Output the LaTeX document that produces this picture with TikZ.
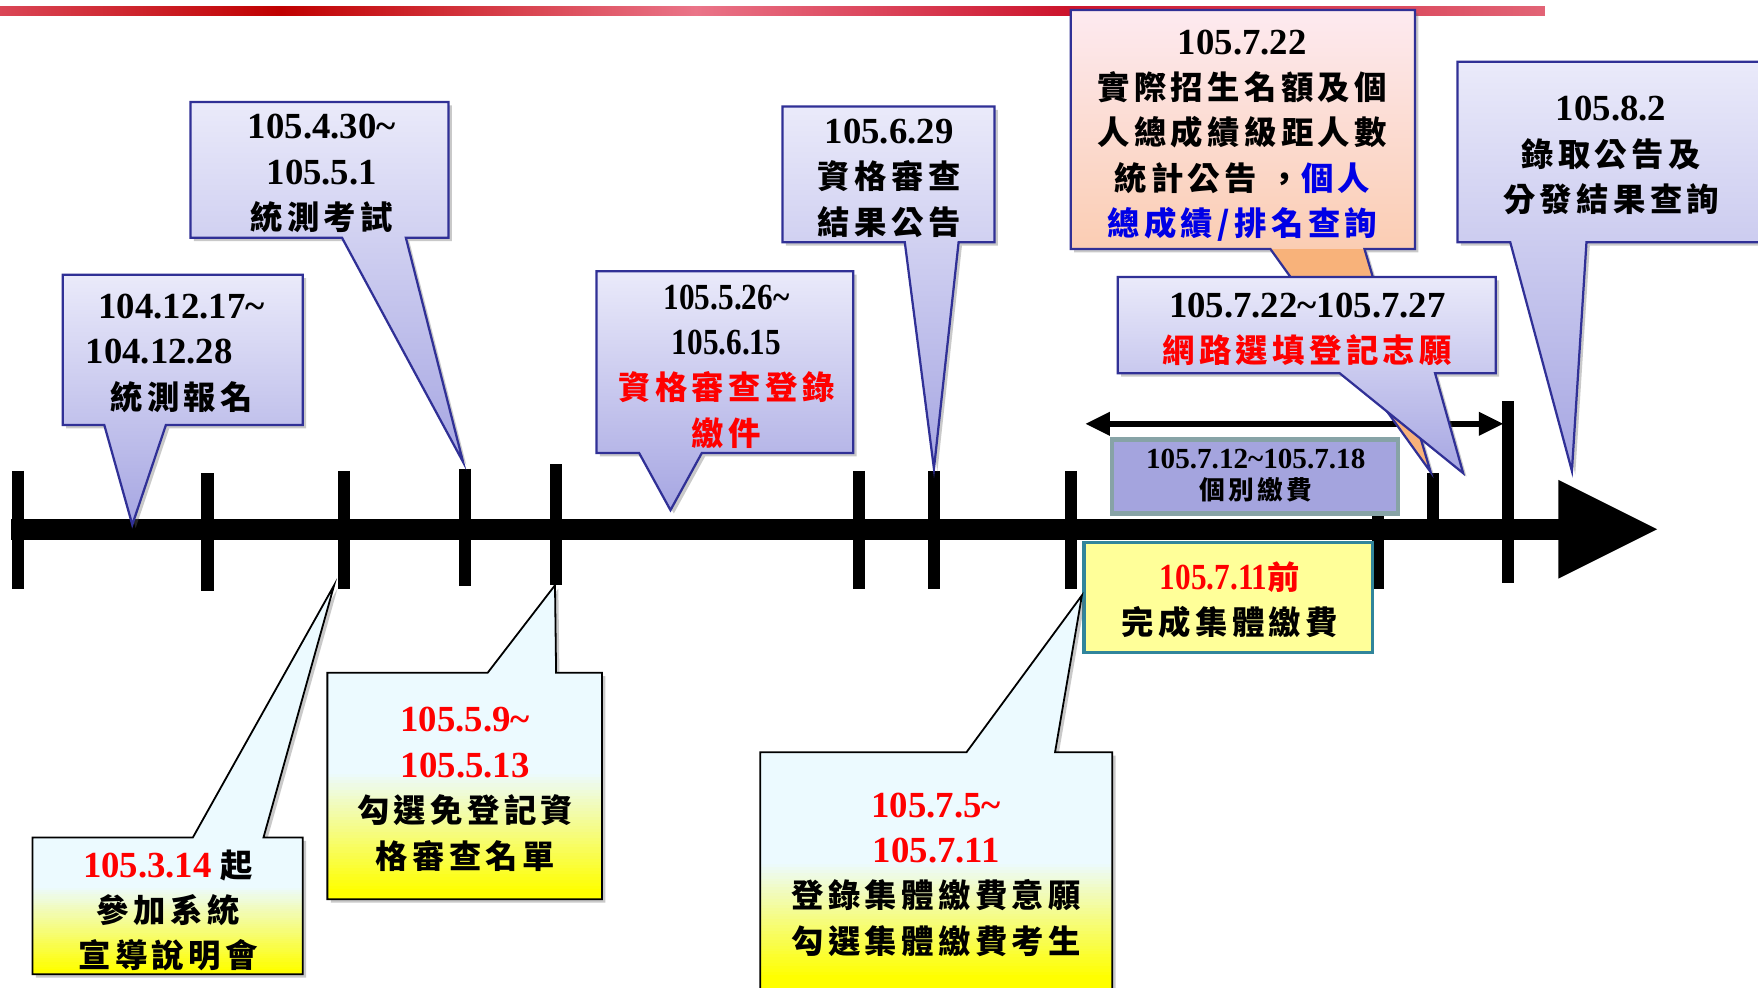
\documentclass[tikz,border=0pt]{standalone}
\usepackage{fontspec}
\setmainfont{Liberation Serif}
\newfontfamily\cjk{Noto Sans CJK TC}[Scale=0.88,LetterSpace=13.6]
\newfontfamily\narrowfont{Liberation Serif}[FakeStretch=0.85]
\usetikzlibrary{arrows.meta,shadows}
\definecolor{lavtop}{RGB}{234,234,250}
\definecolor{lavbot}{RGB}{166,166,226}
\definecolor{lavedge}{RGB}{48,48,150}
\definecolor{cyantop}{RGB}{236,250,255}
\definecolor{yelbot}{RGB}{255,255,0}
\definecolor{orgtop}{RGB}{253,234,240}
\definecolor{orgbot}{RGB}{248,178,122}
\definecolor{txtred}{RGB}{255,0,0}
\definecolor{txtblue}{RGB}{0,0,230}
\definecolor{paybox}{RGB}{164,164,222}
\definecolor{payedge}{RGB}{135,163,166}
\definecolor{yelbox}{RGB}{255,255,153}
\definecolor{yeledge}{RGB}{49,133,155}
\definecolor{barA}{RGB}{218,70,86}
\definecolor{barB}{RGB}{192,0,0}
\definecolor{barC}{RGB}{234,116,136}
\definecolor{barD}{RGB}{204,20,44}
\definecolor{barE}{RGB}{226,100,118}
\newcommand\cjkt[1]{{\cjk #1}}
\newcommand\rd[1]{\textcolor{txtred}{#1}}
\newcommand\bl[1]{\textcolor{txtblue}{#1}}
\tikzset{
  shadowed/.style={drop shadow={shadow xshift=1.5pt,shadow yshift=-1.5pt,opacity=0.35,fill=black!60}},
  lavcall/.style={top color=lavtop,bottom color=lavbot,draw=lavedge,line width=1pt,line join=miter,shadowed},
  bcall/.style 2 args={fill=cyantop,draw=black,line width=0.8pt,line join=miter,shadowed,
     path picture={\foreach \k in {0,...,39}{\pgfmathtruncatemacro\pc{\k*100/39}
        \fill[yelbot!\pc!cyantop] (0,{#1+(#2-#1)*\k/40}) rectangle (1600,{#1+(#2-#1)*(\k+1)/40+0.8});}
        \fill[yelbot] (0,#2) rectangle (1600,950);}},
  ocall/.style={fill=orgbot,draw=lavedge,line width=1pt,line join=miter,shadowed,
     path picture={\shade[top color=orgtop,bottom color=orgbot] (955,9) rectangle (1262,222);}},
  txt/.style={align=center,inner sep=0pt,font=\fontsize{16.4}{20.25}\selectfont\bfseries},
  smalltxt/.style={align=center,inner sep=0pt,font=\fontsize{13}{14}\selectfont\bfseries},
  tickmark/.style={line width=5.5pt},
}
\begin{document}
\begin{tikzpicture}[x=0.5pt,y=-0.5pt]
\useasboundingbox (0,0) rectangle (1568,881);
\clip (0,0) rectangle (1568,881);
\fill[white] (0,0) rectangle (1568,881);
% top red bar
\shade[left color=barA,right color=barB] (0,6) rectangle (250.5,14);
\shade[left color=barB,right color=barC] (250,6) rectangle (620.5,14);
\shade[left color=barC,right color=barD] (620,6) rectangle (950.5,14);
\shade[left color=barD,right color=barE] (950,6) rectangle (1378,14);
% axis
\coordinate (axL) at (10,472);
\coordinate (axR) at (1395,472);
\draw[line width=9.5pt] (axL) -- (axR);
\fill (1390,428) -- (1478,472) -- (1390,516) -- cycle;
\foreach \x/\a/\b in {16/420/525,185/422/527,307/420/525,415/418/523,496/414/522,766/420/525,833/420/525,955/420/525,1229/420/525,1278/422/472,1345/358/520}
  \draw[tickmark] (\x,\a) -- (\x,\b);
% double arrow
\coordinate (dl) at (968,378);
\coordinate (dr) at (1341,378);
\draw[line width=2.5pt,{Triangle[length=11pt,width=10pt]}-{Triangle[length=11pt,width=10pt]}] (dl) -- (dr);
% upper callouts
\path[lavcall] (56,245) -- (270,245) -- (270,379) -- (148,379) -- (118,468) -- (93,379) -- (56,379) -- cycle;
\path[lavcall] (170,91) -- (400,91) -- (400,212) -- (362,212) -- (413,412) -- (305,212) -- (170,212) -- cycle;
\path[lavcall] (532,242) -- (761,242) -- (761,404) -- (626,404) -- (598,455) -- (570,404) -- (532,404) -- cycle;
\path[lavcall] (698,95) -- (887,95) -- (887,216) -- (855,216) -- (833,418) -- (807,216) -- (698,216) -- cycle;
\path[ocall] (955,9) -- (1262,9) -- (1262,222) -- (1217,222) -- (1276,421) -- (1133,222) -- (955,222) -- cycle;
\path[lavcall] (997,247) -- (1334,247) -- (1334,333) -- (1280,333) -- (1305,422) -- (1195,333) -- (997,333) -- cycle;
\path[lavcall] (1300,55) -- (1590,55) -- (1590,216) -- (1415,216) -- (1402,420) -- (1347,216) -- (1300,216) -- cycle;
% boxes on the axis
\path[fill=paybox,draw=payedge,line width=2pt] (992,392) rectangle (1247,458);
\path[fill=yelbox,draw=yeledge,line width=1.6pt] (967,484) rectangle (1224,582);
% lower callouts
\path[bcall={790}{866}] (29,747) -- (172,747) -- (298,522) -- (235,747) -- (270,747) -- (270,869) -- (29,869) -- cycle;
\path[bcall={688}{796}] (292,600) -- (435,600) -- (495,522) -- (496,600) -- (537,600) -- (537,802) -- (292,802) -- cycle;
\path[bcall={768}{872}] (678,671) -- (862,671) -- (965,531) -- (941,671) -- (992,671) -- (992,900) -- (678,900) -- cycle;
% texts
\node[txt] (t1) at (162,315) {104.12.17\textasciitilde\\104.12.28\rule{20pt}{0pt}\\\cjkt{統測報名}};
\node[txt] (t2) at (287,155) {105.4.30\textasciitilde\\105.5.1\\\cjkt{統測考試}};
\node[txt] (t3) at (648,327) {{\narrowfont 105.5.26\textasciitilde}\\{\narrowfont 105.6.15}\\\rd{\cjkt{資格審查登錄}}\\\rd{\cjkt{繳件}}};
\node[txt] (t4) at (793,159) {105.6.29\\\cjkt{資格審查}\\\cjkt{結果公告}};
\node[txt] (t5) at (1108,121) {105.7.22\\\cjkt{實際招生名額及個}\\\cjkt{人總成績級距人數}\\\cjkt{統計公告 ，\bl{個人}}\\\bl{\cjkt{總成績/排名查詢}}};
\node[txt] (t6) at (1166,294) {105.7.22\textasciitilde105.7.27\\\rd{\cjkt{網路選填登記志願}}};
\node[txt] (t7) at (1437,139) {105.8.2\\\cjkt{錄取公告及}\\\cjkt{分發結果查詢}};
\node[smalltxt] (t8) at (1120,424) {105.7.12\textasciitilde105.7.18\\\cjkt{個別繳費}};
\node[txt] (t9) at (1097,535) {\rd{{\narrowfont 105.7.11}\cjkt{前}}\\\cjkt{完成集體繳費}};
\node[txt] (t10) at (150,812) {\rd{105.3.14} \cjkt{起}\\\cjkt{參加系統}\\\cjkt{宣導說明會}};
\node[txt] (t11) at (415,704) {\rd{105.5.9\textasciitilde}\\\rd{105.5.13}\\\cjkt{勾選免登記資}\\\cjkt{格審查名單}};
\node[txt] (t12) at (835,780) {\rd{105.7.5\textasciitilde}\\\rd{105.7.11}\\\cjkt{登錄集體繳費意願}\\\cjkt{勾選集體繳費考生}};
\end{tikzpicture}
\end{document}
